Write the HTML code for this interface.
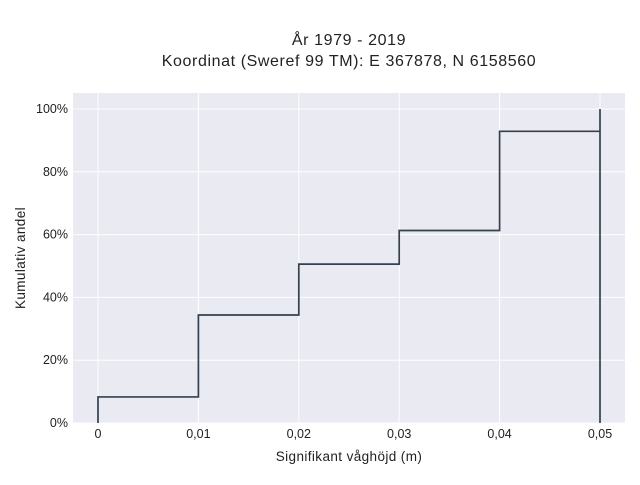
<!DOCTYPE html>
<html><head><meta charset="utf-8"><style>
body{margin:0;background:#fff;font-family:"Liberation Sans",sans-serif;}
svg text{font-family:"Liberation Sans",sans-serif;fill:#222;}
</style></head><body>
<svg id="c" width="640" height="480">
<text x="349" y="45" text-anchor="middle" font-size="16" letter-spacing="0.6">År 1979 - 2019</text>
<text x="349" y="66" text-anchor="middle" font-size="16" letter-spacing="0.6">Koordinat (Sweref 99 TM): E 367878, N 6158560</text>
<rect x="73" y="93" width="552" height="330" fill="#eaeaf2"/>
<g id="grid"></g><g id="ticks"></g><g id="series"></g>
<text x="349" y="461" text-anchor="middle" font-size="13.5" letter-spacing="0.4">Signifikant våghöjd (m)</text>
<text transform="translate(25,258) rotate(-90)" text-anchor="middle" font-size="13.5" letter-spacing="0.4">Kumulativ andel</text>
</svg>
<script>
const xVals=[0,0.01,0.02,0.03,0.04,0.05];
const yVals=[8.3,34.4,50.6,61.3,92.9,100];
const xTicks=[0,0.01,0.02,0.03,0.04,0.05];
const xTickLabels=["0","0,01","0,02","0,03","0,04","0,05"];
const yTicks=[0,20,40,60,80,100];
const yTickLabels=["0%","20%","40%","60%","80%","100%"];
const NS="http://www.w3.org/2000/svg";
const X=v=>98+v*10040;
const Y=v=>423-v*3.14;
function mk(t,a,p){const e=document.createElementNS(NS,t);for(const k in a)e.setAttribute(k,a[k]);p.appendChild(e);return e;}
const g=document.getElementById('grid'),tk=document.getElementById('ticks'),s=document.getElementById('series');
xTicks.forEach((v,i)=>{
 const l=mk('line',{x1:X(v),x2:X(v),y1:93,y2:423,stroke:'#fff','stroke-width':1},g);
 
 
 const t=mk('text',{x:X(v),y:438,'text-anchor':'middle','font-size':12.5},tk);
 t.textContent=xTickLabels[i];
 
 
});
yTicks.forEach((v,i)=>{
 const l=mk('line',{x1:73,x2:625,y1:Y(v),y2:Y(v),stroke:'#fff','stroke-width':1},g);
 
 
 const t=mk('text',{x:68,y:Y(v)+4,'text-anchor':'end','font-size':12.5},tk);
 t.textContent=yTickLabels[i];
 
 
});
let d='M'+X(xVals[0])+','+Y(0);
xVals.forEach((x,i)=>{
 d+=' L'+X(x)+','+Y(yVals[i]);
 if(i<xVals.length-1)d+=' L'+X(xVals[i+1])+','+Y(yVals[i]);
});
d+=' L'+X(xVals[xVals.length-1])+','+Y(0);
const p=mk('path',{d:d,fill:'none',stroke:'#36414f','stroke-width':1.7},s);


</script>
</body></html>
